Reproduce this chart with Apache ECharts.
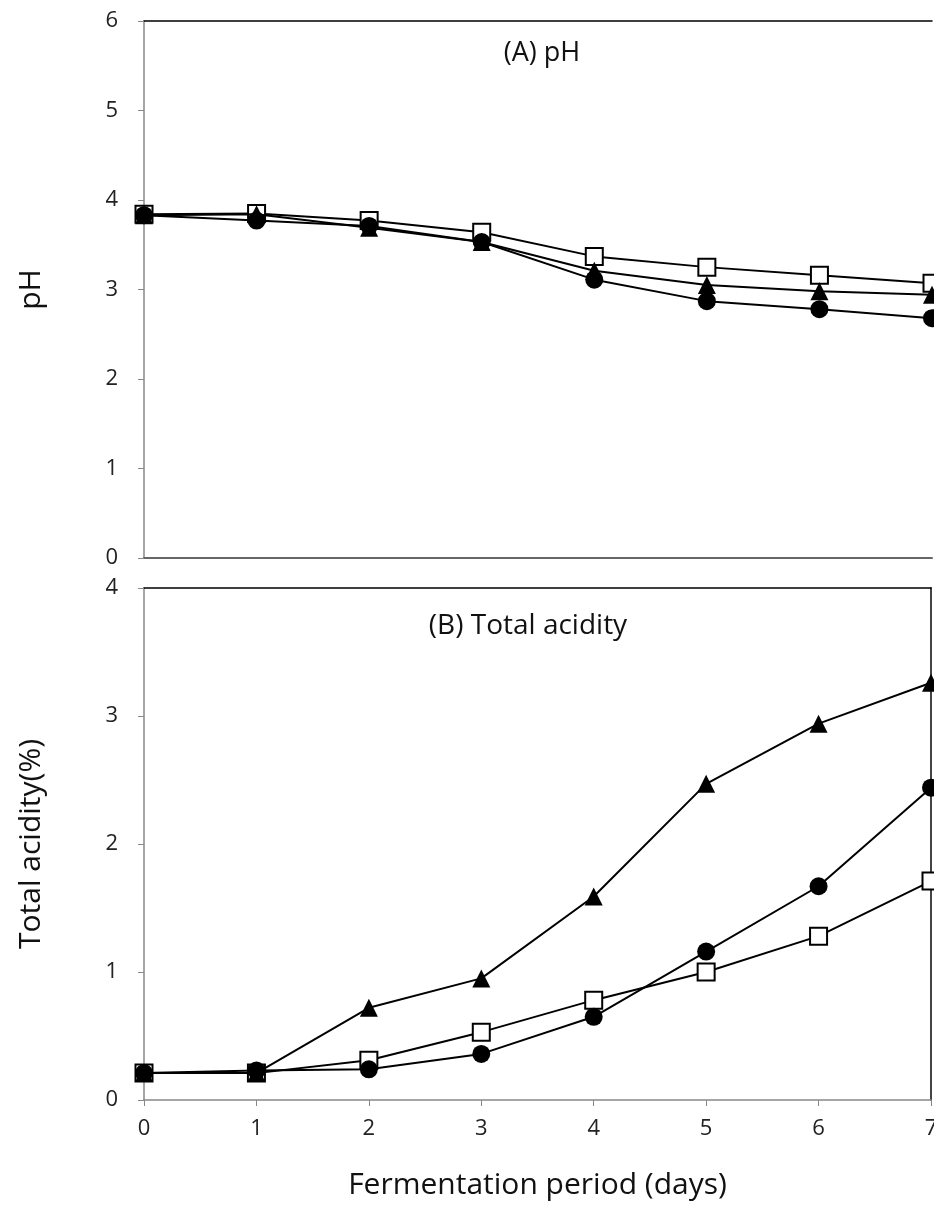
<!DOCTYPE html>
<html>
<head>
<meta charset="utf-8">
<script src="https://cdn.jsdelivr.net/npm/echarts@6/dist/echarts.min.js"></script>
<style>
  html, body { margin: 0; padding: 0; background: #fff; }
  #chart { width: 934px; height: 1229px; }
</style>
</head>
<body>
<div id="chart"></div>
<script>
// fermentation days
const days = [0, 1, 2, 3, 4, 5, 6, 7]

// (A) pH
const phCircle = [3.83, 3.77, 3.71, 3.53, 3.11, 2.87, 2.78, 2.68]
const phTriangle = [3.83, 3.84, 3.69, 3.53, 3.21, 3.05, 2.98, 2.94]
const phSquare = [3.84, 3.85, 3.77, 3.64, 3.37, 3.25, 3.16, 3.07]

// (B) total acidity (%)
const taCircle = [0.21, 0.23, 0.24, 0.36, 0.65, 1.16, 1.67, 2.44]
const taTriangle = [0.21, 0.21, 0.72, 0.95, 1.59, 2.47, 2.94, 3.26]
const taSquare = [0.21, 0.21, 0.31, 0.53, 0.78, 1.00, 1.28, 1.71]

const font = '"Open Sans", "Noto Sans", sans-serif'
const chart = echarts.init(document.getElementById('chart'), null, { renderer: 'canvas' })

const pairs = (ys) => days.map((d, i) => [d, ys[i]])

function line (name, ys, gi, kind) {
  const sym = { circle: 'circle', triangle: 'triangle', square: 'rect' }[kind]
  return {
    name: name,
    type: 'line',
    xAxisIndex: gi * 2,
    yAxisIndex: gi === 0 ? 0 : 1,
    data: pairs(ys),
    symbol: sym,
    symbolSize: kind === 'square' ? 17 : 18,
    lineStyle: { color: '#000', width: 2 },
    itemStyle: {
      color: kind === 'square' ? '#fff' : '#000',
      borderColor: '#000',
      borderWidth: kind === 'square' ? 2 : 0
    },
    z: kind === 'square' ? 3 : 4,
    animation: false
  }
}

const tickLabel = { color: '#222', fontSize: 22, fontFamily: font }
const nameStyle = { fontSize: 30, color: '#111', fontFamily: font }

const option = {
  backgroundColor: '#fff',
  animation: false,
  title: [
    { text: '(A) pH', left: 537, top: 35, textAlign: 'center',
      textStyle: { fontSize: 27, fontWeight: 'normal', color: '#111', fontFamily: font } },
    { text: '(B) Total acidity', left: 523, top: 607, textAlign: 'center',
      textStyle: { fontSize: 28, fontWeight: 'normal', color: '#111', fontFamily: font } }
  ],
  grid: [
    { left: 144, top: 21, width: 788, height: 537, outerBoundsMode: 'none', containLabel: false },
    { left: 144, top: 588, width: 787, height: 512, outerBoundsMode: 'none', containLabel: false }
  ],
  xAxis: [
    { type: 'value', gridIndex: 0, min: 0, max: 7, interval: 1, position: 'bottom',
      axisLine: { show: true, lineStyle: { color: '#666', width: 2 } },
      axisTick: { show: false }, axisLabel: { show: false }, splitLine: { show: false } },
    { type: 'value', gridIndex: 0, min: 0, max: 7, interval: 1, position: 'top',
      axisLine: { show: true, onZero: false, lineStyle: { color: '#000', width: 1.5 } },
      axisTick: { show: false }, axisLabel: { show: false }, splitLine: { show: false } },
    { type: 'value', gridIndex: 1, min: 0, max: 7, interval: 1, position: 'bottom',
      name: 'Fermentation period (days)', nameLocation: 'middle', nameGap: 70,
      nameTextStyle: nameStyle,
      axisLine: { show: true, lineStyle: { color: '#888', width: 1.5 } },
      axisTick: { show: true, inside: false, length: 6, lineStyle: { color: '#888' } },
      axisLabel: Object.assign({ margin: 18 }, tickLabel), splitLine: { show: false } },
    { type: 'value', gridIndex: 1, min: 0, max: 7, interval: 1, position: 'top',
      axisLine: { show: true, onZero: false, lineStyle: { color: '#000', width: 1.5 } },
      axisTick: { show: false }, axisLabel: { show: false }, splitLine: { show: false } }
  ],
  yAxis: [
    { type: 'value', gridIndex: 0, min: 0, max: 6, interval: 1, position: 'left',
      name: 'pH', nameLocation: 'middle', nameGap: 98, nameRotate: 90,
      nameTextStyle: nameStyle,
      axisLine: { show: true, onZero: false, lineStyle: { color: '#888', width: 1.5 } },
      axisTick: { show: true, length: 6, lineStyle: { color: '#888' } },
      axisLabel: Object.assign({ margin: 26 }, tickLabel), splitLine: { show: false } },
    { type: 'value', gridIndex: 1, min: 0, max: 4, interval: 1, position: 'left',
      name: 'Total acidity(%)', nameLocation: 'middle', nameGap: 98, nameRotate: 90,
      nameTextStyle: nameStyle,
      axisLine: { show: true, onZero: false, lineStyle: { color: '#888', width: 1.5 } },
      axisTick: { show: true, length: 6, lineStyle: { color: '#888' } },
      axisLabel: Object.assign({ margin: 26 }, tickLabel), splitLine: { show: false } },
    { type: 'value', gridIndex: 1, min: 0, max: 4, interval: 1, position: 'right',
      axisLine: { show: true, onZero: false, lineStyle: { color: '#444', width: 2 } },
      axisTick: { show: false }, axisLabel: { show: false }, splitLine: { show: false } }
  ],
  series: [
    line('pH circle', phCircle, 0, 'circle'),
    line('pH triangle', phTriangle, 0, 'triangle'),
    line('pH square', phSquare, 0, 'square'),
    line('TA circle', taCircle, 1, 'circle'),
    line('TA triangle', taTriangle, 1, 'triangle'),
    line('TA square', taSquare, 1, 'square')
  ]
}

chart.setOption(option)
</script>
</body>
</html>
